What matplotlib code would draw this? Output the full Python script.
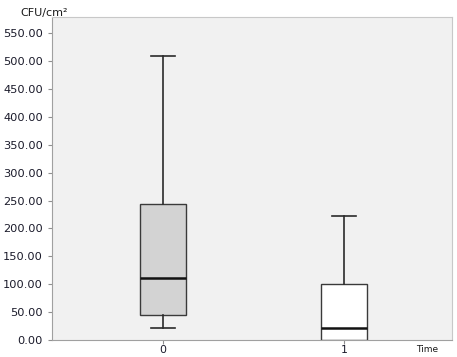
import matplotlib.pyplot as plt

# box statistics per time point (CFU/cm2)
times = ["0", "1"]
whisker_low = [21.5, 0.0]
q1 = [45.0, 0.0]
median = [111.0, 22.0]
q3 = [244.0, 100.0]
whisker_high = [510.0, 222.0]
box_colors = ["#d3d3d3", "#ffffff"]

y_ticks = [0, 50, 100, 150, 200, 250, 300, 350, 400, 450, 500, 550]

fig = plt.figure(figsize=(4.57, 3.57), dpi=100)
ax = fig.add_axes([0.114, 0.048, 0.875, 0.905])
ax.set_facecolor("#f1f1f1")

stats = []
for i, t in enumerate(times):
    stats.append(
        {
            "label": t,
            "whislo": whisker_low[i],
            "q1": q1[i],
            "med": median[i],
            "q3": q3[i],
            "whishi": whisker_high[i],
            "fliers": [],
        }
    )

bp = ax.bxp(
    stats,
    positions=range(len(times)),
    widths=0.25,
    patch_artist=True,
    showfliers=False,
    boxprops=dict(edgecolor="#3a3a3a", linewidth=1.0),
    whiskerprops=dict(color="#2a2a2a", linewidth=1.2),
    capprops=dict(color="#2a2a2a", linewidth=1.2),
    medianprops=dict(color="#111111", linewidth=1.8),
    capwidths=0.13,
)
for patch, c in zip(bp["boxes"], box_colors):
    patch.set_facecolor(c)
# lower cap of time 1 sits on the axis line, hide it
bp["caps"][2].set_visible(False)

ax.set_xlim(-0.613, 1.597)
ax.set_ylim(0, 580)
ax.set_yticks(y_ticks)
ax.set_yticklabels([f"{v:.2f}" for v in y_ticks])
ax.set_xticks(range(len(times)))
ax.set_xticklabels(times)

for side in ["top", "right"]:
    ax.spines[side].set_color("#c8c8c8")
for side in ["left", "bottom"]:
    ax.spines[side].set_color("#a0a0a0")
ax.spines["bottom"].set_zorder(5)
ax.tick_params(axis="both", colors="#909090", labelcolor="#1a1a2a", labelsize=8.2,
               length=3, width=0.8)
ax.tick_params(axis="x", pad=1, labelsize=7.8)

fig.text(0.044, 0.978, "CFU/cm²", fontsize=8, color="#1a1a1a", va="top")
fig.text(0.935, 0.008, "Time", fontsize=6.5, color="#1a1a1a", ha="center", va="bottom")

fig.savefig("out.png", dpi=100)
